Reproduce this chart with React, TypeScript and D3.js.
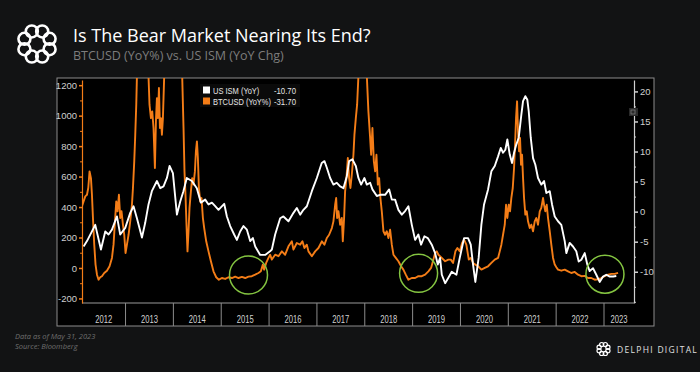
import React, { useEffect, useRef } from 'react'
import * as d3 from 'd3'

// decimal year, value
const ismSeries: [number, number][] = [
  [2012.123, -5.8], [2012.194, -4.9], [2012.367, -2.2], [2012.486, -6.3], [2012.576, -3.3], [2012.645, -3.8],
  [2012.716, -3.0], [2012.82, -0.8], [2012.889, -3.8], [2012.994, -2.7], [2013.098, -0.2], [2013.167, 0.9],
  [2013.238, -1.1], [2013.343, -4.3], [2013.41, -1.9], [2013.48, 1.2], [2013.55, 3.4], [2013.656, 5.1],
  [2013.725, 3.9], [2013.794, 4.2], [2013.865, 5.6], [2013.92, 7.6], [2013.99, 6.4], [2014.074, -0.5],
  [2014.143, 1.7], [2014.21, 3.4], [2014.28, 5.6], [2014.387, 5.1], [2014.49, 3.9], [2014.575, 1.5],
  [2014.665, 2.0], [2014.734, 1.2], [2014.805, 1.5], [2014.874, 0.9], [2014.943, 0.3], [2015.062, 1.3],
  [2015.118, -0.8], [2015.187, -2.4], [2015.27, -3.8], [2015.327, -4.7], [2015.396, -3.3], [2015.465, -2.4],
  [2015.536, -3.0], [2015.605, -4.9], [2015.661, -4.4], [2015.71, -5.8], [2015.814, -7.2], [2015.918, -7.2],
  [2016.02, -6.6], [2016.058, -6.3], [2016.127, -3.8], [2016.232, -1.1], [2016.3, -0.8], [2016.405, -1.6],
  [2016.51, -0.2], [2016.58, 0.6], [2016.65, -0.5], [2016.718, 0.3], [2016.79, 0.9], [2016.894, 3.4],
  [2016.998, 5.6], [2017.1, 8.1], [2017.157, 8.4], [2017.207, 7.3], [2017.276, 5.6], [2017.345, 4.5],
  [2017.416, 4.8], [2017.485, 4.2], [2017.554, 3.9], [2017.625, 5.9], [2017.673, 8.4], [2017.742, 8.7],
  [2017.813, 7.6], [2017.867, 5.6], [2017.924, 4.5], [2017.993, 5.6], [2018.043, 4.5], [2018.112, 4.8],
  [2018.16, 3.7], [2018.252, 2.6], [2018.32, 2.8], [2018.425, 2.8], [2018.51, 3.7], [2018.565, 2.0],
  [2018.634, 2.0], [2018.703, 0.3], [2018.774, -0.5], [2018.843, 0.1], [2018.912, 0.9], [2018.983, -2.2],
  [2019.052, -4.7], [2019.12, -3.8], [2019.177, -5.5], [2019.246, -4.1], [2019.317, -4.4], [2019.4, -5.5],
  [2019.47, -6.9], [2019.526, -8.8], [2019.574, -7.7], [2019.61, -10.5], [2019.68, -11.9], [2019.747, -11.0],
  [2019.818, -10.0], [2019.915, -10.5], [2019.985, -7.7], [2020.075, -4.4], [2020.159, -4.4], [2020.215, -5.5],
  [2020.263, -8.8], [2020.311, -11.7], [2020.38, -7.7], [2020.437, -2.2], [2020.493, 1.2], [2020.577, 3.7],
  [2020.646, 6.7], [2020.717, 7.6], [2020.786, 9.2], [2020.842, 10.6], [2020.89, 9.8], [2020.938, 10.3],
  [2020.98, 12.0], [2021.03, 9.5], [2021.078, 8.1], [2021.12, 9.8], [2021.168, 11.2], [2021.218, 12.3],
  [2021.272, 16.1], [2021.308, 18.4], [2021.356, 19.2], [2021.398, 18.6], [2021.427, 16.7], [2021.469, 12.3],
  [2021.517, 8.9], [2021.565, 7.8], [2021.621, 5.6], [2021.69, 4.5], [2021.747, 5.1], [2021.795, 3.1],
  [2021.866, 3.4], [2021.914, 1.2], [2021.97, -0.8], [2022.039, -1.6], [2022.108, -2.2], [2022.179, -4.9],
  [2022.213, -6.9], [2022.283, -5.2], [2022.352, -5.8], [2022.421, -6.6], [2022.471, -8.3], [2022.526, -8.0],
  [2022.597, -6.9], [2022.651, -8.8], [2022.7, -9.9], [2022.77, -9.4], [2022.839, -10.5], [2022.91, -11.7],
  [2022.979, -10.8], [2023.048, -10.5], [2023.12, -10.8], [2023.19, -10.8], [2023.257, -10.7],
]

const btcSeries: [number, number][] = [
  [2012.089, 405], [2012.123, 437], [2012.158, 470], [2012.194, 481], [2012.221, 525], [2012.248, 634],
  [2012.277, 590], [2012.298, 481], [2012.319, 328], [2012.346, 153], [2012.373, 22], [2012.403, -44],
  [2012.436, -77], [2012.471, -61], [2012.507, -54], [2012.555, -33], [2012.611, -18], [2012.666, 11],
  [2012.716, 66], [2012.749, 153], [2012.779, 306], [2012.806, 437], [2012.833, 372], [2012.862, 481],
  [2012.889, 328], [2012.916, 372], [2012.946, 284], [2012.973, 218], [2013.0, 98], [2013.029, 153],
  [2013.063, 218], [2013.098, 306], [2013.134, 415], [2013.155, 525], [2013.182, 700], [2013.203, 875],
  [2013.224, 1072], [2013.238, 1260], [2013.307, 2000], [2013.391, 3000], [2013.453, 2000], [2013.48, 1260],
  [2013.501, 1072], [2013.531, 984], [2013.558, 1028], [2013.585, 919], [2013.614, 656], [2013.635, 963],
  [2013.656, 1115], [2013.677, 984], [2013.698, 1181], [2013.719, 919], [2013.74, 984], [2013.76, 875],
  [2013.781, 984], [2013.808, 1260], [2013.892, 3000], [2013.996, 5000], [2014.101, 3000], [2014.184, 1260],
  [2014.212, 919], [2014.232, 634], [2014.253, 481], [2014.274, 284], [2014.295, 109], [2014.316, 241],
  [2014.337, 394], [2014.366, 503], [2014.393, 590], [2014.42, 547], [2014.45, 634], [2014.471, 766],
  [2014.492, 831], [2014.512, 722], [2014.533, 525], [2014.561, 437], [2014.588, 459], [2014.617, 328],
  [2014.644, 262], [2014.686, 175], [2014.734, 109], [2014.784, 44], [2014.838, -22], [2014.895, -61],
  [2014.951, -77], [2015.014, -66], [2015.083, -72], [2015.152, -61], [2015.223, -66], [2015.292, -57],
  [2015.361, -66], [2015.432, -59], [2015.501, -66], [2015.569, -57], [2015.64, -54], [2015.709, -44],
  [2015.778, -33], [2015.828, -22], [2015.87, 22], [2015.897, -11], [2015.939, 33], [2015.987, 66],
  [2016.023, 87], [2016.058, 55], [2016.127, 87], [2016.196, 77], [2016.267, 109], [2016.336, 87],
  [2016.405, 142], [2016.476, 175], [2016.509, 120], [2016.58, 164], [2016.649, 153], [2016.697, 175],
  [2016.739, 131], [2016.789, 153], [2016.823, 109], [2016.894, 77], [2016.963, 109], [2017.032, 131],
  [2017.103, 175], [2017.157, 153], [2017.207, 197], [2017.255, 218], [2017.312, 262], [2017.345, 306],
  [2017.381, 415], [2017.402, 459], [2017.422, 328], [2017.45, 372], [2017.485, 284], [2017.52, 328],
  [2017.541, 175], [2017.568, 328], [2017.589, 503], [2017.617, 590], [2017.646, 722], [2017.673, 590],
  [2017.7, 525], [2017.729, 612], [2017.763, 743], [2017.784, 875], [2017.813, 984], [2017.84, 1072],
  [2017.867, 1260], [2017.938, 1600], [2018.043, 1260], [2018.076, 1028], [2018.112, 853], [2018.133, 743],
  [2018.16, 919], [2018.19, 700], [2018.217, 634], [2018.244, 743], [2018.273, 547], [2018.3, 590],
  [2018.327, 459], [2018.356, 372], [2018.39, 241], [2018.425, 218], [2018.46, 241], [2018.494, 197],
  [2018.53, 251], [2018.565, 153], [2018.599, 87], [2018.649, 66], [2018.703, 44], [2018.759, 11],
  [2018.807, -11], [2018.857, -44], [2018.912, -77], [2018.983, -66], [2019.052, -66], [2019.121, -54],
  [2019.192, -54], [2019.261, -44], [2019.33, -22], [2019.386, 0], [2019.434, 55], [2019.47, 98],
  [2019.505, 109], [2019.539, 87], [2019.61, 66], [2019.679, 44], [2019.747, 55], [2019.798, 55],
  [2019.846, 33], [2019.894, 109], [2019.936, 131], [2019.986, 109], [2020.034, 164], [2020.075, 186],
  [2020.123, 153], [2020.174, 55], [2020.215, 66], [2020.263, 33], [2020.311, 22], [2020.368, 11],
  [2020.437, -11], [2020.508, 0], [2020.577, 11], [2020.646, 33], [2020.717, 55], [2020.786, 66],
  [2020.821, 109], [2020.855, 153], [2020.89, 218], [2020.926, 284], [2020.953, 415], [2020.98, 328],
  [2021.009, 415], [2021.036, 372], [2021.063, 459], [2021.093, 525], [2021.12, 656], [2021.141, 809],
  [2021.162, 984], [2021.183, 1094], [2021.203, 897], [2021.224, 766], [2021.245, 853], [2021.266, 678],
  [2021.287, 743], [2021.308, 590], [2021.329, 459], [2021.356, 350], [2021.385, 372], [2021.412, 306],
  [2021.448, 262], [2021.481, 284], [2021.517, 241], [2021.552, 306], [2021.586, 328], [2021.621, 284],
  [2021.657, 372], [2021.69, 394], [2021.726, 459], [2021.747, 415], [2021.774, 372], [2021.803, 415],
  [2021.83, 328], [2021.866, 241], [2021.899, 153], [2021.935, 66], [2021.97, 22], [2022.004, 5],
  [2022.039, -11], [2022.108, -18], [2022.179, -11], [2022.248, -22], [2022.317, -33], [2022.388, -26],
  [2022.457, -44], [2022.526, -54], [2022.597, -52], [2022.666, -66], [2022.735, -66], [2022.806, -77],
  [2022.875, -74], [2022.944, -66], [2023.015, -54], [2023.084, -44], [2023.153, -39], [2023.224, -39],
  [2023.293, -32],
]

const years = [2012, 2013, 2014, 2015, 2016, 2017, 2018, 2019, 2020, 2021, 2022, 2023]
const leftTicks = [-200, 0, 200, 400, 600, 800, 1000, 1200]
const leftMinor = [-100, 100, 300, 500, 700, 900, 1100]
const rightTicks = [-10, -5, 0, 5, 10, 15, 20]
const rightMinor = [-15, -12.5, -7.5, -2.5, 2.5, 7.5, 12.5, 17.5]
// green circles: decimal year, BTC value
const circleMarks: [number, number][] = [[2015.57, -46], [2019.125, -35], [2023.02, -41]]
const legendLabels = ['US ISM (YoY)', 'BTCUSD (YoY%)']
const legendValues = ['-10.70', '-31.70']

const ORANGE = '#f47d17'
const GREEN = '#84c441'
const AXFONT = "'Liberation Sans Narrow', 'Liberation Sans', sans-serif"

const W = 700, H = 372
const plot = { left: 82, right: 634, top: 80, bottom: 303 }
const frame = { left: 57, right: 654, top: 78, bottom: 326 }

const x = d3.scaleLinear().domain([2012.09, 2023.627]).range([plot.left, plot.right])
const yLeft = d3.scaleLinear().domain([-230, 1234]).range([plot.bottom, plot.top])
const yRight = d3.scaleLinear().domain([-15.2, 21.9]).range([plot.bottom, plot.top])

function Logo({ cx, cy, r, w }: { cx: number, cy: number, r: number, w: number }) {
  const n = 8
  return (
    <g fill="none" stroke="#fff" strokeWidth={w}>
      {d3.range(n).map(i => {
        const a = (i / n) * Math.PI * 2 + Math.PI / 8
        return <circle key={i} cx={cx + Math.cos(a) * r * 0.68} cy={cy + Math.sin(a) * r * 0.68} r={r * 0.3} />
      })}
    </g>
  )
}

export default function App() {
  const leftRef = useRef<SVGGElement>(null)
  const leftMinorRef = useRef<SVGGElement>(null)
  const rightRef = useRef<SVGGElement>(null)
  const rightMinorRef = useRef<SVGGElement>(null)

  useEffect(() => {
    const gl = d3.select(leftRef.current!)
    gl.call(d3.axisLeft(yLeft).tickValues(leftTicks).tickSize(3).tickSizeOuter(0).tickPadding(2).tickFormat(d => String(d)))
    gl.select('.domain').attr('stroke', ORANGE).attr('stroke-width', 1.2)
    gl.selectAll('.tick line').attr('stroke', ORANGE).attr('stroke-width', 1.5)
    gl.selectAll('.tick text').attr('fill', '#cfcfcf').style('font-family', AXFONT).style('font-size', '9.5px')

    const glm = d3.select(leftMinorRef.current!)
    glm.call(d3.axisLeft(yLeft).tickValues(leftMinor).tickSize(2).tickFormat(() => ''))
    glm.select('.domain').remove()
    glm.selectAll('.tick line').attr('stroke', ORANGE)

    const gr = d3.select(rightRef.current!)
    gr.call(d3.axisRight(yRight).tickValues(rightTicks).tickSize(4).tickSizeOuter(0).tickPadding(2).tickFormat(d => String(d)))
    gr.select('.domain').attr('stroke', '#d0d0d0').attr('stroke-width', 1.2)
    gr.selectAll('.tick line').attr('stroke', '#d0d0d0').attr('stroke-width', 1.5)
    gr.selectAll('.tick text').attr('fill', '#cfcfcf').style('font-family', AXFONT).style('font-size', '9.5px')

    const grm = d3.select(rightMinorRef.current!)
    grm.call(d3.axisRight(yRight).tickValues(rightMinor).tickSize(2).tickFormat(() => ''))
    grm.select('.domain').remove()
    grm.selectAll('.tick line').attr('stroke', '#d0d0d0')
  }, [])

  const btcLine = d3.line<[number, number]>().x(d => x(d[0])).y(d => yLeft(d[1]))
  const ismLine = d3.line<[number, number]>().x(d => x(d[0])).y(d => yRight(d[1]))

  const yearLabelX = (yr: number) => {
    const a = Math.max(x(yr), plot.left)
    const b = Math.min(x(yr + 1), plot.right)
    return (a + b) / 2
  }

  return (
    <svg width={W} height={H} style={{ position: 'absolute', left: 0, top: 0, background: '#121314' }}>
      <rect width={W} height={H} fill="#121314" />
      <Logo cx={37} cy={44} r={20} w={2.6} />
      <text x={73} y={42} fill="#ffffff" style={{ fontFamily: "'Open Sans', sans-serif", fontSize: 18 }}>
        Is The Bear Market Nearing Its End?
      </text>
      <text x={73} y={60} fill="#7d7d7d" style={{ fontFamily: "'Open Sans', sans-serif", fontSize: 12.5 }}>
        BTCUSD (YoY%) vs. US ISM (YoY Chg)
      </text>

      <rect x={frame.left} y={frame.top} width={frame.right - frame.left} height={frame.bottom - frame.top}
        fill="#000" stroke="#8c8c8c" strokeWidth={1} />

      <defs>
        <clipPath id="plotclip">
          <rect x={plot.left} y={plot.top - 2} width={plot.right - plot.left} height={plot.bottom - plot.top + 2} />
        </clipPath>
      </defs>

      <line x1={plot.left} x2={plot.right} y1={plot.bottom} y2={plot.bottom} stroke="#9a9a9a" />
      {years.slice(1).map(yr => (
        <line key={yr} x1={x(yr)} x2={x(yr)} y1={plot.bottom} y2={frame.bottom} stroke="#8c8c8c" />
      ))}
      {years.map(yr => (
        <text key={yr} x={yearLabelX(yr)} y={323} textAnchor="middle" fill="#d0d0d0"
          textLength={17} lengthAdjust="spacingAndGlyphs"
          style={{ fontFamily: AXFONT, fontSize: 10 }}>{yr}</text>
      ))}

      <g clipPath="url(#plotclip)">
        <path d={btcLine(btcSeries) || ''} fill="none" stroke={ORANGE} strokeWidth={1.9} strokeLinejoin="round" />
        <path d={ismLine(ismSeries) || ''} fill="none" stroke="#ffffff" strokeWidth={1.9} strokeLinejoin="round" />
      </g>

      {circleMarks.map((c, i) => (
        <circle key={i} cx={x(c[0])} cy={yLeft(c[1])} r={19} fill="none" stroke={GREEN} strokeWidth={1.5} />
      ))}

      <g ref={leftMinorRef} transform={`translate(${plot.left},0)`} />
      <g ref={leftRef} transform={`translate(${plot.left},0)`} />
      <g ref={rightMinorRef} transform={`translate(${plot.right},0)`} />
      <g ref={rightRef} transform={`translate(${plot.right},0)`} />

      <rect x={629} y={108} width={9} height={8} fill="#2a2a2a" />
      <rect x={631} y={110} width={4} height={4} fill="none" stroke="#777" strokeWidth={0.8} />

      <g style={{ fontFamily: AXFONT, fontSize: 9.5 }}>
        <rect x={200} y={84} width={100} height={23} fill="#0a0a0a" />
        {legendLabels.map((lab, i) => (
          <g key={lab}>
            <rect x={203} y={86.5 + i * 11} width={7} height={7} fill={i === 0 ? '#fff' : ORANGE} />
            <g transform={`translate(213,${93.5 + i * 11}) scale(0.79,1)`}>
              <text x={0} y={0} fill="#e6e6e6">{lab}</text>
            </g>
            <g transform={`translate(296,${93.5 + i * 11}) scale(0.82,1)`}>
              <text x={0} y={0} fill="#e6e6e6" textAnchor="end">{legendValues[i]}</text>
            </g>
          </g>
        ))}
      </g>

      <g fill="#6f6f6f" style={{ fontFamily: "'Open Sans', sans-serif", fontSize: 7.5, fontStyle: 'italic' }}>
        <text x={15} y={339}>Data as of May 31, 2023</text>
        <text x={15} y={349}>Source: Bloomberg</text>
      </g>

      <Logo cx={603.5} cy={349} r={7} w={1.2} />
      <text x={617} y={352.5} fill="#e0e0e0" style={{ fontFamily: "'Open Sans', sans-serif", fontSize: 8.5, letterSpacing: 1.3 }}>
        DELPHI DIGITAL
      </text>
    </svg>
  )
}
